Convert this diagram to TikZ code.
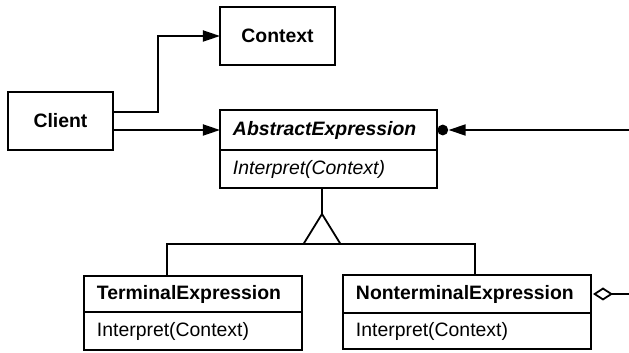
\documentclass[tikz,border=0pt]{standalone}
\usepackage{fontspec}
\setmainfont{Liberation Sans}
\usepackage{tikz}
\usetikzlibrary{arrows.meta,positioning,calc}

\begin{document}
\begin{tikzpicture}[
  x=0.5pt, y=-0.5pt,
  box/.style={draw, line width=1.1pt, outer sep=0pt, align=center, font=\fontsize{9.7}{11}\selectfont\bfseries},
  head/.style={draw, line width=1.1pt, outer sep=0pt, anchor=north west, inner xsep=6.5pt, inner ysep=0pt, align=left, font=\fontsize{9.7}{11}\selectfont\bfseries},
  body/.style={draw, line width=1.1pt, outer sep=0pt, anchor=north west, inner xsep=6.5pt, inner ysep=0pt, align=left, font=\fontsize{9.7}{11}\selectfont},
  arrow/.style={-{Triangle[length=8.5pt,width=5.5pt]}, line width=0.9pt},
  line/.style={line width=0.9pt},
  dot/.style={circle, fill, inner sep=0pt, minimum size=5.4pt}
]
\useasboundingbox (0,0) rectangle (629,353);
\node[box, minimum width=57.5pt, minimum height=29pt] (ctx) at (277.5,36) {Context};
\node[box, minimum width=52.5pt, minimum height=29pt] (client) at (60.5,121) {Client};
\node[head, text width=95.5pt, minimum height=20pt] (abshead) at (220,110) {\itshape AbstractExpression};
\node[body, text width=95.5pt, minimum height=19pt] (absbody) at (abshead.south west) {\itshape Interpret(Context)};
\node[head, text width=96pt, minimum height=18pt] (termhead) at (84,276) {TerminalExpression};
\node[body, text width=96pt, minimum height=19pt] (termbody) at (termhead.south west) {Interpret(Context)};
\node[head, text width=111pt, minimum height=19pt] (nonhead) at (343,275) {NonterminalExpression};
\node[body, text width=111pt, minimum height=18pt] (nonbody) at (nonhead.south west) {Interpret(Context)};
\node[dot, anchor=west] (agg) at (abshead.east) {};
\coordinate (fork) at (322,244);
\coordinate (r1) at (629,130);
\coordinate (r2) at (629,294);
% client links
\draw[arrow] ([yshift=4.5pt]client.east) -- ++(22.5pt,0) |- (ctx.west);
\draw[arrow] (client.east |- abshead.west) -- (abshead.west);
% aggregation
\draw[arrow] (r1) -- (agg.east);
\draw[line, {Diamond[open,length=10pt,width=6.5pt]}-, shorten <=1pt] (nonhead.east) -- (r2);
% inheritance
\draw[line] ([xshift=-13pt]termhead.north) |- (fork) -| ([xshift=4pt]nonhead.north);
\draw[line] (absbody.south -| fork) -- ([yshift=15pt]fork);
\draw[line, fill=white] ([yshift=15pt]fork) -- ([xshift=-9.25pt]fork) -- ([xshift=9.25pt]fork) -- cycle;
\end{tikzpicture}
\end{document}
